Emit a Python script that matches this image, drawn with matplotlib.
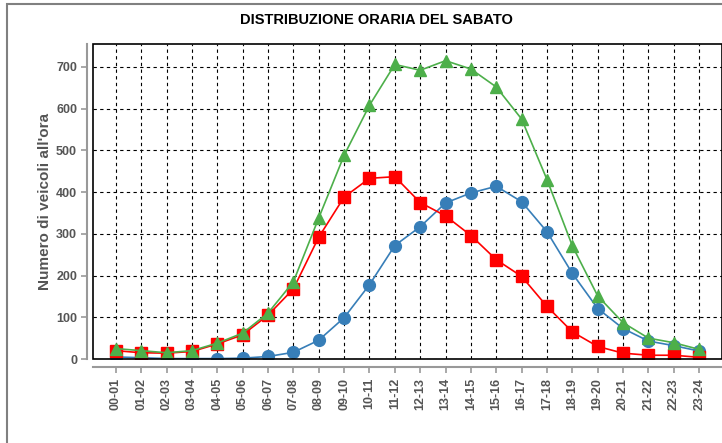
import matplotlib.pyplot as plt
from matplotlib.patches import Rectangle

fasce = ["00-01", "01-02", "02-03", "03-04", "04-05", "05-06", "06-07", "07-08",
         "08-09", "09-10", "10-11", "11-12", "12-13", "13-14", "14-15", "15-16",
         "16-17", "17-18", "18-19", "19-20", "20-21", "21-22", "22-23", "23-24"]
serie_blu = [5, 3, 1, 1, 1, 2, 6, 16, 45, 99, 178, 272, 317, 374, 398, 414,
             377, 305, 205, 121, 73, 43, 32, 19]
serie_rossa = [20, 15, 14, 18, 36, 58, 105, 168, 292, 388, 433, 437, 375, 343, 296, 238,
               198, 126, 65, 30, 14, 9, 9, 4]
serie_verde = [25, 20, 15, 20, 38, 62, 110, 185, 338, 488, 608, 706, 692, 715, 695, 652,
               575, 430, 271, 151, 87, 50, 39, 23]
y_ticks = [0, 100, 200, 300, 400, 500, 600, 700]

plt.rcParams['font.family'] = ['Liberation Sans', 'DejaVu Sans']

fig = plt.figure(figsize=(7.22, 4.43), dpi=100)
# cornice esterna
fig.patches.append(Rectangle((7 / 722, -0.1), 1.0, 1.1 - 4 / 443, transform=fig.transFigure,
                             fill=False, edgecolor="#808080", linewidth=1.5))

ax = fig.add_axes([93 / 722, 1 - 359 / 443, 1 - 93 / 722, (359 - 44) / 443])
x = list(range(len(fasce)))

ax.plot(x, serie_blu, color="#377eb8", marker="o", markersize=8.5, linewidth=1.2, zorder=3)
ax.plot(x, serie_rossa, color="#ff0000", marker="s", markersize=8.5, linewidth=1.2, zorder=4)
ax.plot(x, serie_verde, color="#4daf4a", marker="^", markersize=9, linewidth=1.2, zorder=5)

ax.set_xlim(-0.9, 23.9)
ax.set_ylim(0, 755)
ax.grid(True, color="black", linestyle=(0, (3, 3)), linewidth=0.8)
ax.set_axisbelow(True)

ax.spines["top"].set_visible(False)
ax.spines["right"].set_visible(False)
ax.spines["left"].set_position(("outward", 4))
ax.spines["bottom"].set_position(("outward", 6))
for s in ("left", "bottom"):
    ax.spines[s].set_color("#999999")
    ax.spines[s].set_linewidth(1.5)
ax.tick_params(colors="#999999", length=4, width=1.2, labelcolor="#555555")

ax.set_xticks(x)
ax.set_xticklabels(fasce, rotation=90, fontsize=9, fontweight="bold", color="#555555")
ax.set_yticks(y_ticks)
ax.set_yticklabels([str(v) for v in y_ticks], fontsize=9, fontweight="bold", color="#555555")

# bordo nero dell'area del grafico
ax.add_patch(Rectangle((0, 0), 1, 1, transform=ax.transAxes, fill=False,
                       edgecolor="black", linewidth=1.2, zorder=6, clip_on=False))

ax.set_ylabel("Numero di veicoli all'ora", fontsize=11, fontweight="bold", color="#555555",
              labelpad=3)
fig.text(376 / 722, 1 - 20 / 443, "DISTRIBUZIONE ORARIA DEL SABATO", ha="center", va="center",
         fontsize=10.5, fontweight="bold", color="black")

fig.savefig("out.png", dpi=100)
